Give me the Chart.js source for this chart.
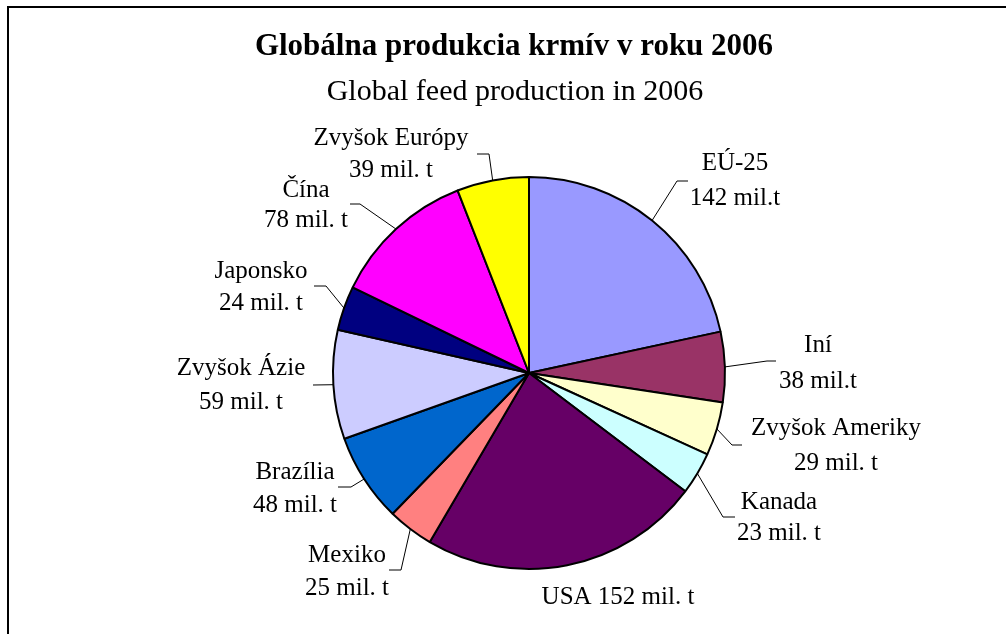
<!DOCTYPE html>
<html>
<head>
<meta charset="utf-8">
<script src="https://cdn.jsdelivr.net/npm/chart.js@4"></script>
<style>
  body { margin: 0; background: #fff; }
  #wrap { width: 1006px; height: 634px; }
</style>
</head>
<body>
<div id="wrap"><canvas id="krmiva" width="1006" height="634"></canvas></div>
<script>
var regiony = ['EÚ-25', 'Iní', 'Zvyšok Ameriky', 'Kanada', 'USA', 'Mexiko', 'Brazília', 'Zvyšok Ázie', 'Japonsko', 'Čína', 'Zvyšok Európy'];
var hodnoty = [142, 38, 29, 23, 152, 25, 48, 59, 24, 78, 39];
var popisky = ['142 mil.t', '38 mil.t', '29 mil. t', '23 mil. t', '152 mil. t', '25 mil. t', '48 mil. t', '59 mil. t', '24 mil. t', '78 mil. t', '39 mil. t'];
var farby = ['#9999FF', '#993366', '#FFFFCC', '#CCFFFF', '#660066', '#FF8080', '#0066CC', '#CCCCFF', '#000080', '#FF00FF', '#FFFF00'];

// where the data labels sit (text centre, line 1 / line 2) and leader line elbow + end
var labelXY = [[735,163,198],[818,345,381],[836,428,463],[779,502,533],[618,597,0],[347,555,588],[295,472,505],[241,368,402],[261,271,303],[306,190,220],[391,138,170]];
var leader = [[677,181,688,181],[767,361,776,361],[732,445,742,445],[723,517,735,517],null,[401,570,389,570],[351,487,338,487],[313,385,313,385],[326,286,314,286],[360,204,350,204],[489,154,477,154]];

var serif = '"Liberation Serif", "Times New Roman", serif';

var popiskyPlugin = {
    id: 'popisky',
    beforeDraw: function(chart) {
        var c = chart.ctx;
        c.save();
        c.fillStyle = '#fff';
        c.fillRect(0, 0, chart.width, chart.height);
        c.strokeStyle = '#000';
        c.lineWidth = 2;
        c.strokeRect(8, 7, 1100, 700);
        c.fillStyle = '#000';
        c.textAlign = 'center';
        c.textBaseline = 'middle';
        c.font = 'bold 31px ' + serif;
        c.fillText('Globálna produkcia krmív v roku 2006', 514, 47);
        c.font = '30px ' + serif;
        c.fillText('Global feed production in 2006', 515, 92);
        c.restore();
    },
    afterDatasetsDraw: function(chart) {
        var c = chart.ctx;
        var arcs = chart.getDatasetMeta(0).data;
        c.save();
        c.strokeStyle = '#000';
        c.lineWidth = 1;
        arcs.forEach(function(a, i) {
            var l = leader[i];
            if (!l) return;
            var mid = (a.startAngle + a.endAngle) / 2;
            var sx = a.x + Math.cos(mid) * a.outerRadius;
            var sy = a.y + Math.sin(mid) * a.outerRadius;
            c.beginPath();
            c.moveTo(sx, sy);
            c.lineTo(l[0], l[1]);
            c.lineTo(l[2], l[3]);
            c.stroke();
        });
        c.fillStyle = '#000';
        c.textAlign = 'center';
        c.textBaseline = 'middle';
        c.font = '25px ' + serif;
        regiony.forEach(function(r, i) {
            var p = labelXY[i];
            if (p[2] === 0) {
                c.fillText(r + ' ' + popisky[i], p[0], p[1]);
            } else {
                c.fillText(r, p[0], p[1]);
                c.fillText(popisky[i], p[0], p[2]);
            }
        });
        c.restore();
    }
};

var ctx = document.getElementById('krmiva');
var kolac = new Chart(ctx, {
    type: 'pie',
    data: {
        labels: regiony,
        datasets: [
            {
                label: 'Globálna produkcia krmív',
                data: hodnoty,
                backgroundColor: farby,
                borderColor: '#000',
                borderWidth: 2,
                radius: 196
            }
        ]
    },
    options: {
        responsive: false,
        animation: false,
        layout: {
            padding: { top: 170, bottom: 58, left: 200, right: 148 }
        },
        plugins: {
            legend: { display: false },
            title: { display: false },
            tooltip: { enabled: false }
        }
    },
    plugins: [popiskyPlugin]
});
</script>
</body>
</html>
